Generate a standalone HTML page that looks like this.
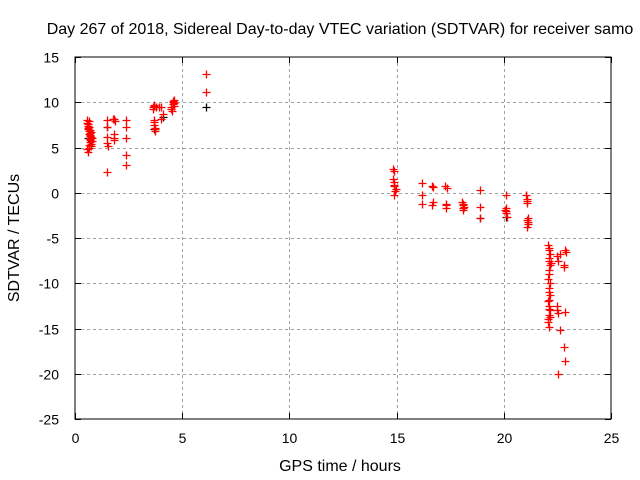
<!DOCTYPE html>
<html><head><meta charset="utf-8"><style>
body{margin:0;background:#fff;width:640px;height:480px;overflow:hidden}
svg{display:block;font-family:"Liberation Sans",sans-serif}
</style></head><body>
<svg id="chart" width="640" height="480">
<text x="340" y="34" text-anchor="middle" font-size="16">Day 267 of 2018, Sidereal Day-to-day VTEC variation (SDTVAR) for receiver samo</text>
<g id="grid"></g>
<g id="axes"></g>
<g id="marks"></g>
<text x="340" y="471" text-anchor="middle" font-size="16">GPS time / hours</text>
<text transform="translate(19,238) rotate(-90)" text-anchor="middle" font-size="16">SDTVAR / TECUs</text>
</svg>
<script>
const xTicks=[0,5,10,15,20,25];
const yTicks=[15,10,5,0,-5,-10,-15,-20,-25];
const redHours=[0.55,0.6,0.62,0.65,0.68,0.7,0.72,0.75,0.58,0.63,0.67,0.71,0.74,0.6,0.66,0.7,0.78,0.8,0.62,0.68,0.73,0.57,0.64,0.69,0.76,0.61,0.66,0.72,
1.5,1.5,1.5,1.5,1.8,1.8,1.8,1.8,1.75,1.85,1.5,1.55,2.4,2.4,2.4,2.4,2.4,
3.65,3.7,3.7,3.72,3.75,3.68,3.7,3.66,3.74,3.7,3.8,3.9,4.0,4.1,4.0,4.5,4.55,4.6,4.5,4.6,4.55,4.52,4.58,4.62,6.1,6.1,
14.85,14.9,14.9,14.95,14.9,14.85,14.88,14.92,14.87,16.2,16.2,16.2,16.65,16.7,16.65,16.7,17.25,17.3,17.3,17.35,17.3,18.05,18.1,18.1,18.15,18.1,18.12,18.9,18.9,18.9,20.1,20.1,20.1,20.15,20.1,20.05,21.05,21.1,21.1,21.1,21.15,21.1,21.15,21.12,21.08,
22.05,22.1,22.1,22.15,22.1,22.15,22.1,22.05,22.1,22.15,22.1,22.05,22.1,22.15,22.1,22.2,22.1,22.12,22.08,22.14,22.1,22.06,22.12,22.1,22.16,
22.5,22.55,22.5,22.6,22.55,22.5,22.6,22.52,22.85,22.8,22.85,22.8,22.85,22.9,22.82];
const redValues=[8,7.6,7.2,6.8,6.4,6,5.6,5.2,4.8,7.9,6.5,5.9,6.2,4.5,7.3,6.9,6.1,5.7,7.0,6.6,5.4,7.7,5.0,6.3,6.7,7.4,5.3,5.8,
8,7.3,5.5,2.3,8.1,6.5,6,5.8,8.2,7.9,6.2,5.2,8,7.3,6,4.2,3.1,
9.5,9.7,7.8,7.2,6.8,7.5,8,9.3,7.0,9.6,9.5,9.5,9.5,8.7,8.2,9.2,9.8,10.3,9.5,9.9,10.1,9.0,10.0,9.6,13.1,11.1,
2.6,1.2,0.8,0.4,-0.3,1.5,0.9,0.2,2.4,1.1,-0.3,-1.2,0.8,-1,-1.4,0.6,0.7,-1.4,-1.7,0.5,-1.2,-1,-1.4,-1.9,-1.6,-1.2,-1.7,0.3,-1.6,-2.8,-0.3,-1.7,-2.2,-2.7,-2,-1.9,-0.3,-0.7,-1.1,-3,-3.5,-3.8,-2.8,-3.2,-0.9,
-5.8,-6.3,-7.5,-8,-9,-10,-11,-12,-12.5,-13,-13.5,-14,-14.8,-6.8,-11.8,-7.8,-10.5,-8.5,-9.5,-11.3,-12.8,-14.3,-7.2,-6.1,-13.7,
-7,-7.5,-13,-15.2,-20,-12.5,-6.8,-13.3,-6.3,-8,-13.2,-17,-18.6,-6.6,-8.2];
const blackHours=[0.6,1.5,3.7,4.1,6.1,18.9,20.1];
const blackValues=[6,7.3,7,8.4,9.5,-2.8,-2.7];
const X0=75,X1=611,Y0=419,Y1=57;
const sx=v=>X0+(v-0)/(25-0)*(X1-X0);
const sy=v=>Y0-(v+25)/(40)*(Y0-Y1);
const NS="http://www.w3.org/2000/svg";
function mk(t,a,p){const e=document.createElementNS(NS,t);for(const k in a)e.setAttribute(k,a[k]);p.appendChild(e);return e;}
const grid=document.getElementById('grid'),axes=document.getElementById('axes'),marks=document.getElementById('marks');
mk('rect',{x:X0,y:Y1,width:X1-X0,height:Y0-Y1,fill:'none',stroke:'#000','stroke-width':1},axes);
xTicks.forEach(t=>{const x=Math.round(sx(t))+0.5;
 if(t>0&&t<25){mk('line',{x1:x,x2:x,y1:Y1,y2:Y0,stroke:'#a0a0a0','stroke-dasharray':'3,3'},grid);}
 mk('line',{x1:x,x2:x,y1:Y0,y2:Y0-6,stroke:'#000'},axes);
 mk('line',{x1:x,x2:x,y1:Y1,y2:Y1+6,stroke:'#000'},axes);
 const tx=mk('text',{x:x,y:Y0+24,'text-anchor':'middle','font-size':14},axes);tx.textContent=t;
 
 
});
yTicks.forEach(t=>{const y=Math.round(sy(t))+0.5;
 if(t<15&&t>-25){mk('line',{x1:X0,x2:X1,y1:y,y2:y,stroke:'#a0a0a0','stroke-dasharray':'3,3'},grid);}
 mk('line',{x1:X0,x2:X0+6,y1:y,y2:y,stroke:'#000'},axes);
 mk('line',{x1:X1,x2:X1-6,y1:y,y2:y,stroke:'#000'},axes);
 const tx=mk('text',{x:X0-16,y:y+5,'text-anchor':'end','font-size':14},axes);tx.textContent=t;
 
 
});
function plus(h,v,c){const x=Math.round(sx(h))+0.5,y=Math.round(sy(v))+0.5;
 const p=mk('path',{d:`M${x-4} ${y}H${x+4}M${x} ${y-4}V${y+4}`,stroke:c,'stroke-width':1.3,fill:'none'},marks);
 
 
}
blackHours.forEach((h,i)=>plus(h,blackValues[i],'#000'));
redHours.forEach((h,i)=>plus(h,redValues[i],'#f00'));
</script>
</body></html>
